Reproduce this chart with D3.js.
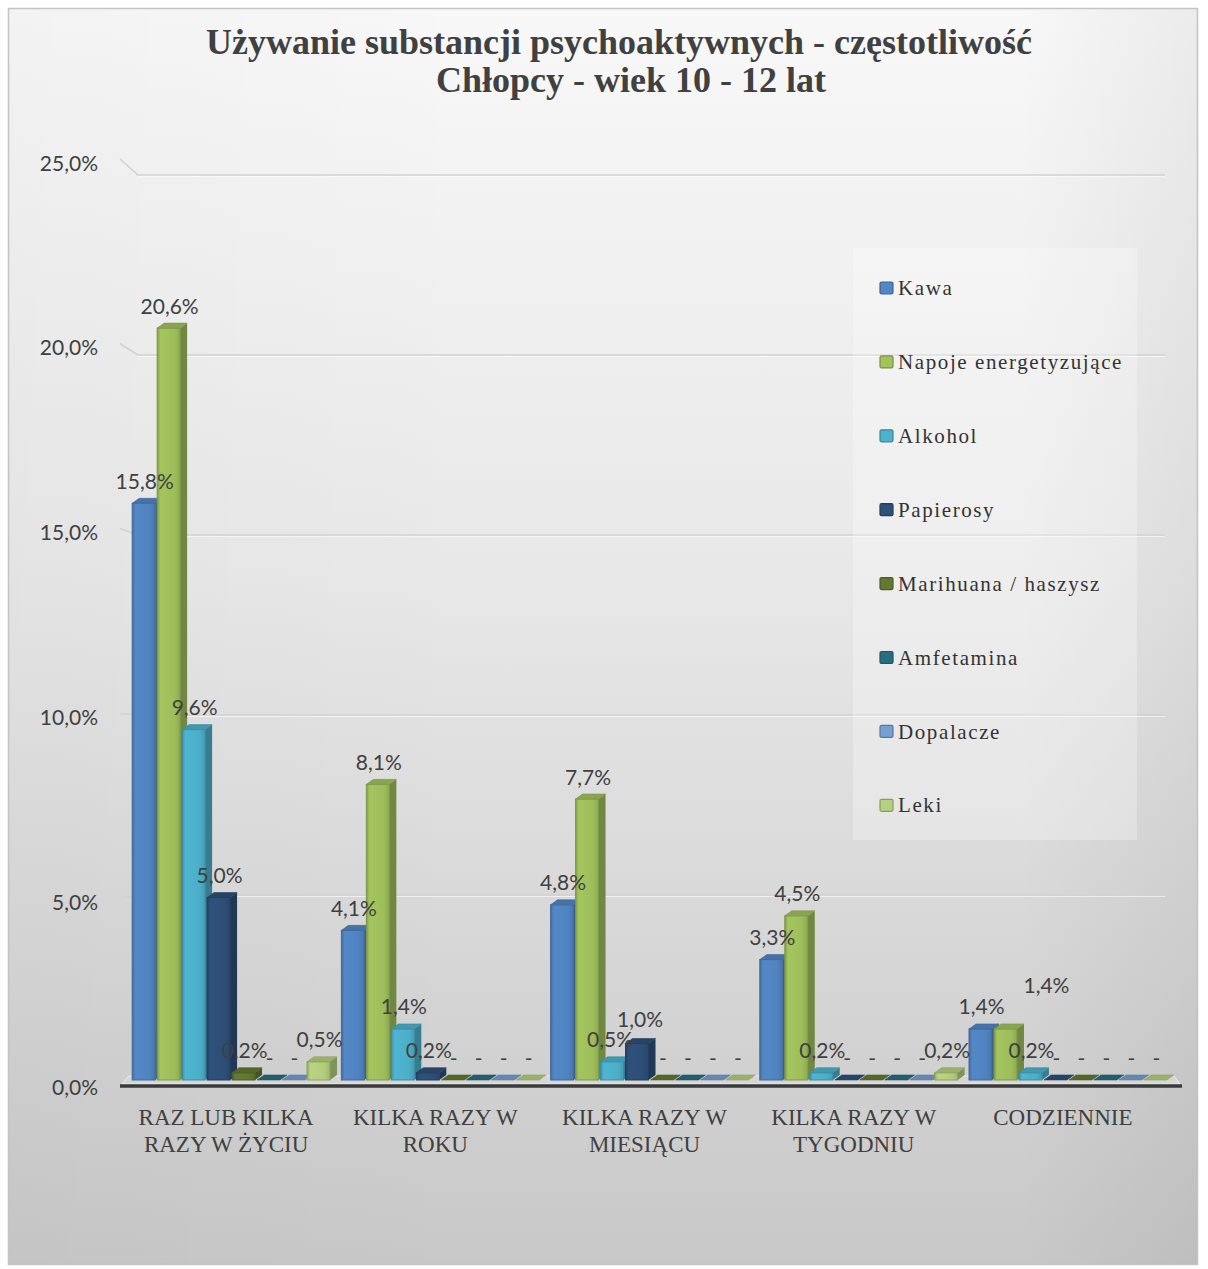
<!DOCTYPE html>
<html>
<head>
<meta charset="utf-8">
<script src="https://cdn.jsdelivr.net/npm/d3@7"></script>
<style>
  html, body { margin: 0; padding: 0; background: #ffffff; }
  svg { display: block; }
</style>
</head>
<body>
<div id="chart"></div>
<script>
// ---------- DATA ----------
const title1 = "Używanie substancji psychoaktywnych - częstotliwość";
const title2 = "Chłopcy - wiek 10 - 12 lat";
const categories = [
  "RAZ LUB KILKA\nRAZY W ŻYCIU",
  "KILKA RAZY W\nROKU",
  "KILKA RAZY W\nMIESIĄCU",
  "KILKA RAZY W\nTYGODNIU",
  "CODZIENNIE"
];
const seriesNames = ["Kawa", "Napoje energetyzujące", "Alkohol", "Papierosy",
  "Marihuana / haszysz", "Amfetamina", "Dopalacze", "Leki"];
const kawa       = [15.8, 4.1, 4.8, 3.3, 1.4];
const napoje     = [20.6, 8.1, 7.7, 4.5, 1.4];
const alkohol    = [9.6, 1.4, 0.5, 0.2, 0.2];
const papierosy  = [5.0, 0.2, 1.0, 0, 0];
const marihuana  = [0.2, 0, 0, 0, 0];
const amfetamina = [0, 0, 0, 0, 0];
const dopalacze  = [0, 0, 0, 0, 0];
const leki       = [0.5, 0, 0, 0.2, 0];
const yTicks = [0, 5, 10, 15, 20, 25];
const seriesColors = ["#4f81bd", "#9bbb59", "#4bacc6", "#2c4d75",
  "#5f7530", "#276a7c", "#729aca", "#afc97a"];

const seriesValues = [kawa, napoje, alkohol, papierosy, marihuana, amfetamina, dopalacze, leki];

// ---------- LAYOUT ----------
const W = 1208, H = 1269;
const svg = d3.select("#chart").append("svg").attr("width", W).attr("height", H);
const defs = svg.append("defs");

// background gradients
const bg = defs.append("linearGradient").attr("id", "bg").attr("x1", 0).attr("y1", 0).attr("x2", 0).attr("y2", 1);
bg.append("stop").attr("offset", "0%").attr("stop-color", "#f8f8f8");
bg.append("stop").attr("offset", "45%").attr("stop-color", "#e8e8e8");
bg.append("stop").attr("offset", "100%").attr("stop-color", "#c8c8c8");
const bgH = defs.append("linearGradient").attr("id", "bgH").attr("x1", 0).attr("y1", 0).attr("x2", 1).attr("y2", 0);
bgH.append("stop").attr("offset", "0%").attr("stop-color", "#000").attr("stop-opacity", 0.02);
bgH.append("stop").attr("offset", "40%").attr("stop-color", "#000").attr("stop-opacity", 0);
bgH.append("stop").attr("offset", "85%").attr("stop-color", "#000").attr("stop-opacity", 0.0);
bgH.append("stop").attr("offset", "100%").attr("stop-color", "#000").attr("stop-opacity", 0.05);

svg.append("rect").attr("x", 8.5).attr("y", 8.5).attr("width", 1189).attr("height", 1256)
  .attr("fill", "url(#bg)").attr("stroke", "#c4c4c4").attr("stroke-width", 1.5);
svg.append("rect").attr("x", 9).attr("y", 9).attr("width", 1188).attr("height", 1255)
  .attr("fill", "url(#bgH)");

// scales
const x = d3.scaleBand().domain(categories).range([128, 1173]).paddingInner(0.045).paddingOuter(0.02);
const yBar = d3.scaleLinear().domain([0, 25]).range([1080, 1080 - 25 * 36.5]);
const yLab = d3.scaleLinear().domain([0, 25]).range([1087, 163]);
const yGrid = d3.scaleLinear().domain([0, 25]).range([1075, 175]);
const slot = x.bandwidth() / seriesNames.length;
const barW = slot * 0.92;
const DX = 7, DY = 5;

// gridlines (back wall + left wall)
const grid = svg.append("g");
yTicks.filter(t => t > 0).forEach(t => {
  grid.append("path")
    .attr("d", `M120,${yLab(t) - 4} L138,${yGrid(t)} L1165,${yGrid(t)}`)
    .attr("fill", "none").attr("stroke", "#d2d2d2").attr("stroke-width", 1.6);
  grid.append("path")
    .attr("d", `M138,${yGrid(t) + 1.5} L1165,${yGrid(t) + 1.5}`)
    .attr("fill", "none").attr("stroke", "#ffffff").attr("stroke-opacity", 0.6).attr("stroke-width", 1);
});

// floor
svg.append("path")
  .attr("d", `M122,1084 L129,1076 L1174,1076 L1180,1084 Z`)
  .attr("fill", "#d6d6d6").attr("stroke", "#ececec").attr("stroke-width", 1);

// y tick labels
svg.append("g").selectAll("text").data(yTicks).join("text")
  .attr("x", 98).attr("y", d => yLab(d)).attr("dy", "0.36em")
  .attr("text-anchor", "end")
  .attr("font-family", "Lato, 'Liberation Sans', sans-serif").attr("font-size", 21)
  .attr("fill", "#404040")
  .text(d => d3.format(".1f")(d).replace(".", ",") + "%");

// gradients per series (front face)
seriesColors.forEach((c, i) => {
  const g = defs.append("linearGradient").attr("id", "fg" + i).attr("x1", 0).attr("x2", 1).attr("y1", 0).attr("y2", 0);
  const base = d3.color(c);
  g.append("stop").attr("offset", "0%").attr("stop-color", base.darker(0.5));
  g.append("stop").attr("offset", "14%").attr("stop-color", base.brighter(0.15));
  g.append("stop").attr("offset", "75%").attr("stop-color", base.brighter(0.05));
  g.append("stop").attr("offset", "100%").attr("stop-color", base.darker(0.25));
});

// bars
const barsG = svg.append("g");
const labelData = [];
seriesValues.forEach((vals, si) => {
  const col = d3.color(seriesColors[si]);
  vals.forEach((v, ci) => {
    const cat = categories[ci];
    const x0 = x(cat) + si * slot;
    const x1 = x0 + barW;
    const yt = yBar(v);
    const yb = yBar(0);
    const g = barsG.append("g");
    // side face
    g.append("path")
      .attr("d", `M${x1},${yt} L${x1 + DX},${yt - DY} L${x1 + DX},${yb - DY} L${x1},${yb} Z`)
      .attr("fill", col.darker(0.9));
    // front face
    g.append("rect").attr("x", x0).attr("y", yt).attr("width", barW).attr("height", Math.max(0, yb - yt))
      .attr("fill", `url(#fg${si})`).attr("stroke", col.darker(0.6)).attr("stroke-width", 1);
    // top face
    g.append("path")
      .attr("d", `M${x0},${yt} L${x0 + DX},${yt - DY} L${x1 + DX},${yt - DY} L${x1},${yt} Z`)
      .attr("fill", col.darker(0.35)).attr("stroke", col.darker(0.6)).attr("stroke-width", 0.6);
    let lx = x0 + barW / 2 + 1, ly = yt - 22;
    // manually moved labels in the original chart
    if (ci === 4 && si === 1) { lx += 40; ly -= 21; }
    if (ci === 2 && si === 3) { lx += 2; ly -= 2; }
    if (ci === 2 && si === 2) { lx -= 3; }
    labelData.push({ v, lx, ly });
  });
});

// x axis line
svg.append("line").attr("x1", 120).attr("x2", 1182).attr("y1", 1086).attr("y2", 1086)
  .attr("stroke", "#3a3a3a").attr("stroke-width", 3.5);

// data labels
svg.append("g").selectAll("text").data(labelData).join("text")
  .attr("x", d => d.lx).attr("y", d => d.ly).attr("dy", "0.36em")
  .attr("text-anchor", "middle")
  .attr("font-family", "Lato, 'Liberation Sans', sans-serif").attr("font-size", 21)
  .attr("fill", "#404040")
  .text(d => d.v === 0 ? "-" : d3.format(".1f")(d.v).replace(".", ",") + "%");

// category labels
const catG = svg.append("g");
categories.forEach(c => {
  const lines = c.split("\n");
  const cx = x(c) + x.bandwidth() / 2 - 6;
  const t = catG.append("text")
    .attr("x", cx).attr("y", 1125)
    .attr("text-anchor", "middle")
    .attr("font-family", "'Liberation Serif', 'Times New Roman', serif").attr("font-size", 23)
    .attr("fill", "#404040");
  lines.forEach((ln, i) => {
    t.append("tspan").attr("x", cx).attr("dy", i === 0 ? 0 : 27).text(ln);
  });
});

// legend
const lg = svg.append("g");
lg.append("rect").attr("x", 853).attr("y", 248).attr("width", 284).attr("height", 592)
  .attr("fill", "#ffffff").attr("fill-opacity", 0.28);
seriesNames.forEach((n, i) => {
  const cy = 288 + i * 73.9;
  const col = d3.color(seriesColors[i]);
  lg.append("rect").attr("x", 880).attr("y", cy - 6).attr("width", 13).attr("height", 12)
    .attr("fill", col.brighter(0.1)).attr("stroke", col.darker(0.7)).attr("stroke-width", 1.2).attr("rx", 1.5);
  lg.append("text").attr("x", 898).attr("y", cy).attr("dy", "0.34em")
    .attr("font-family", "'Liberation Serif', 'Times New Roman', serif").attr("font-size", 21)
    .attr("letter-spacing", 1.6)
    .attr("fill", "#333333").text(n);
});

// title
const tg = svg.append("g").attr("font-family", "'Liberation Serif', 'Times New Roman', serif")
  .attr("font-weight", "bold").attr("fill", "#404040").attr("text-anchor", "middle");
tg.append("text").attr("x", 619).attr("y", 54).attr("font-size", 36).text(title1);
tg.append("text").attr("x", 631).attr("y", 92).attr("font-size", 36).text(title2);
</script>
</body>
</html>
